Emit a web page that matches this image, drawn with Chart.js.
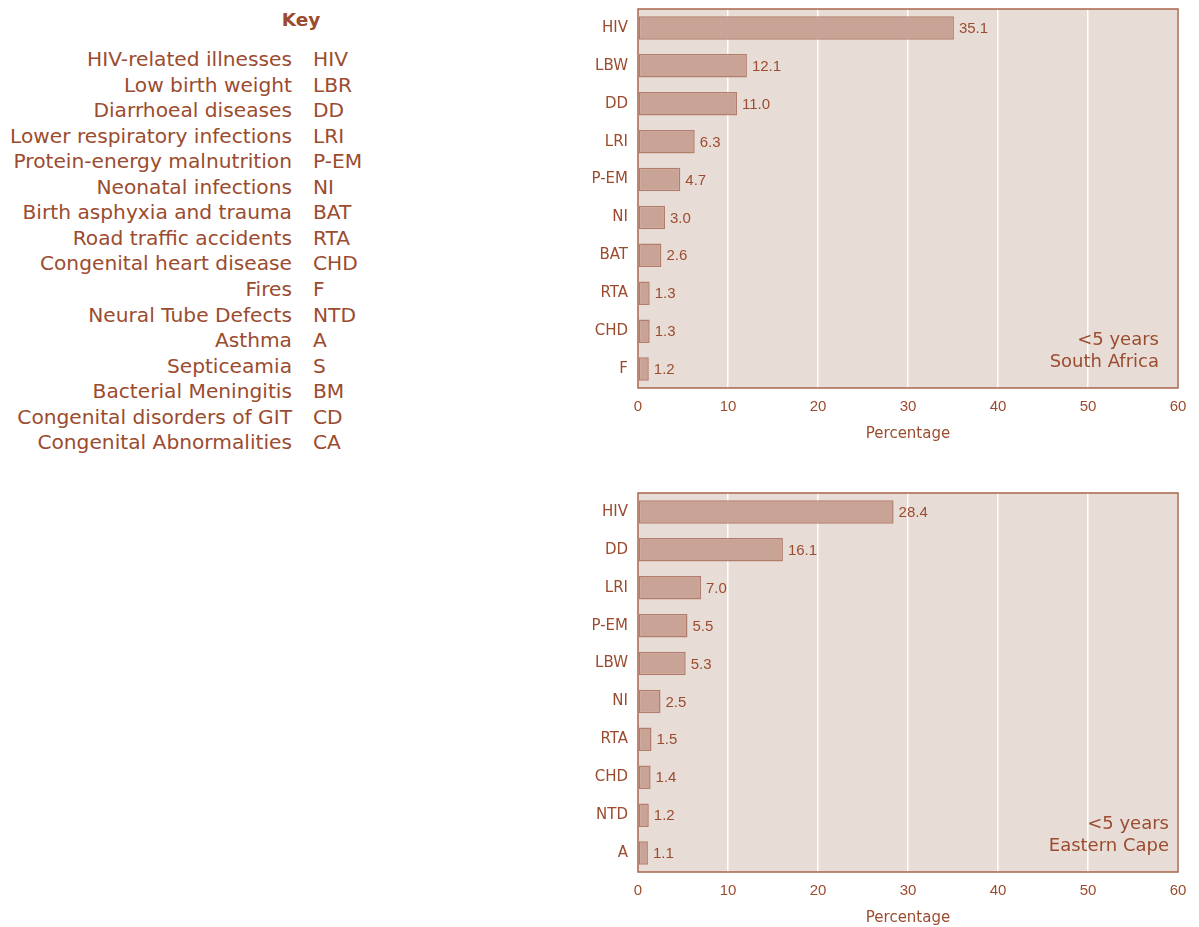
<!DOCTYPE html>
<html>
<head>
<meta charset="utf-8">
<script src="https://cdn.jsdelivr.net/npm/chart.js@4/dist/chart.umd.min.js"></script>
<style>
  html, body { margin: 0; padding: 0; background: #fff; }
  body { width: 1199px; height: 927px; position: relative; overflow: hidden;
         font-family: "DejaVu Sans", sans-serif; color: #9b4c2f; }
  #keyTitle { position: absolute; left: 261px; width: 80px; top: 7px; text-align: center;
              font-weight: bold; font-size: 18.5px; line-height: 26px; }
  .keyrow { position: absolute; left: 0; width: 0; height: 26px; font-size: 20.2px; line-height: 26px; }
  .keyrow .d { position: absolute; left: 0; width: 292px; text-align: right; white-space: nowrap; }
  .keyrow .a { position: absolute; left: 313px; white-space: nowrap; }
  .cwrap { position: absolute; left: 560px; width: 639px; height: 443px; }
</style>
</head>
<body>
<div id="keyTitle">Key</div>
<div id="key"></div>
<div class="cwrap" style="top:0px;"><canvas id="c1" width="639" height="443"></canvas></div>
<div class="cwrap" style="top:484px;"><canvas id="c2" width="639" height="443"></canvas></div>
<script>
const keyNames = ["HIV-related illnesses","Low birth weight","Diarrhoeal diseases","Lower respiratory infections","Protein-energy malnutrition","Neonatal infections","Birth asphyxia and trauma","Road traffic accidents","Congenital heart disease","Fires","Neural Tube Defects","Asthma","Septiceamia","Bacterial Meningitis","Congenital disorders of GIT","Congenital Abnormalities"];
const keyCodes = ["HIV","LBR","DD","LRI","P-EM","NI","BAT","RTA","CHD","F","NTD","A","S","BM","CD","CA"];

const saCategories = ["HIV","LBW","DD","LRI","P-EM","NI","BAT","RTA","CHD","F"];
const saValues = [35.1, 12.1, 11.0, 6.3, 4.7, 3.0, 2.6, 1.3, 1.3, 1.2];
const saNote = ["<5 years", "South Africa"];

const ecCategories = ["HIV","DD","LRI","P-EM","LBW","NI","RTA","CHD","NTD","A"];
const ecValues = [28.4, 16.1, 7.0, 5.5, 5.3, 2.5, 1.5, 1.4, 1.2, 1.1];
const ecNote = ["<5 years", "Eastern Cape"];

const xTicks = [0, 10, 20, 30, 40, 50, 60];
const xTitle = "Percentage";

// key
const keyDiv = document.getElementById('key');
keyNames.forEach((n, i) => {
  const r = document.createElement('div');
  r.className = 'keyrow';
  r.style.top = (46 + i * 25.55) + 'px';
  r.innerHTML = '<span class="d"></span><span class="a"></span>';
  r.querySelector('.d').textContent = n;
  r.querySelector('.a').textContent = keyCodes[i];
  keyDiv.appendChild(r);
});

const TXT = '#9b4c2f';
const FONT = "'DejaVu Sans', sans-serif";
const NUMFONT = "'Liberation Sans', Arial, sans-serif";

const framePlugin = {
  id: 'frame',
  beforeDraw(chart) {
    const {ctx, chartArea: a} = chart;
    ctx.save();
    ctx.fillStyle = '#e8dcd7';
    ctx.fillRect(a.left, a.top, a.right - a.left, a.bottom - a.top);
    ctx.restore();
  },
  afterDraw(chart, args, opts) {
    const {ctx, chartArea: a} = chart;
    ctx.save();
    ctx.strokeStyle = '#a8654b';
    ctx.lineWidth = 1.5;
    ctx.strokeRect(a.left, a.top, a.right - a.left, a.bottom - a.top);
    const meta = chart.getDatasetMeta(0);
    ctx.fillStyle = TXT;
    ctx.font = '15px ' + NUMFONT;
    ctx.textAlign = 'left';
    ctx.textBaseline = 'middle';
    meta.data.forEach((bar, i) => {
      const v = chart.data.datasets[0].data[i];
      ctx.fillText(v.toFixed(1), bar.x + 5, bar.y + 1);
    });
    ctx.font = '18px ' + FONT;
    ctx.textAlign = 'right';
    ctx.fillText(opts.note[0], a.right - opts.dx, a.bottom - 48);
    ctx.fillText(opts.note[1], a.right - opts.dx, a.bottom - 26);
    ctx.restore();
  }
};

function makeChart(id, cats, vals, note, dx) {
  return new Chart(document.getElementById(id), {
    type: 'bar',
    data: {
      labels: cats,
      datasets: [{
        data: vals,
        backgroundColor: '#c9a496',
        borderColor: '#b27e6b',
        borderWidth: 1.5,
        borderSkipped: false,
        barPercentage: 0.62,
        categoryPercentage: 1
      }]
    },
    options: {
      indexAxis: 'y',
      responsive: false,
      animation: false,
      layout: { padding: { top: 9, right: 21, bottom: 0, left: 0 } },
      plugins: { legend: { display: false }, tooltip: { enabled: false }, frame: { note: note, dx: dx } },
      scales: {
        x: {
          min: 0, max: 60,
          afterBuildTicks(axis) { axis.ticks = xTicks.map(v => ({ value: v })); },
          afterFit(axis) { axis.height = 55; },
          grid: { color: '#ffffff', lineWidth: 1.5, drawTicks: false },
          border: { display: false },
          ticks: { color: TXT, font: { family: NUMFONT, size: 15 }, padding: 10, maxRotation: 0 },
          title: { display: true, text: xTitle, color: TXT, font: { family: FONT, size: 15 }, padding: { top: 0, bottom: 0 } }
        },
        y: {
          afterFit(axis) { axis.width = 78; axis.paddingTop = 0; axis.paddingBottom = 0; },
          grid: { display: false, drawTicks: false },
          border: { display: false },
          ticks: { color: TXT, font: { family: FONT, size: 15 }, padding: 10 }
        }
      }
    },
    plugins: [framePlugin]
  });
}

makeChart('c1', saCategories, saValues, saNote, 19);
makeChart('c2', ecCategories, ecValues, ecNote, 9);
</script>
</body>
</html>
